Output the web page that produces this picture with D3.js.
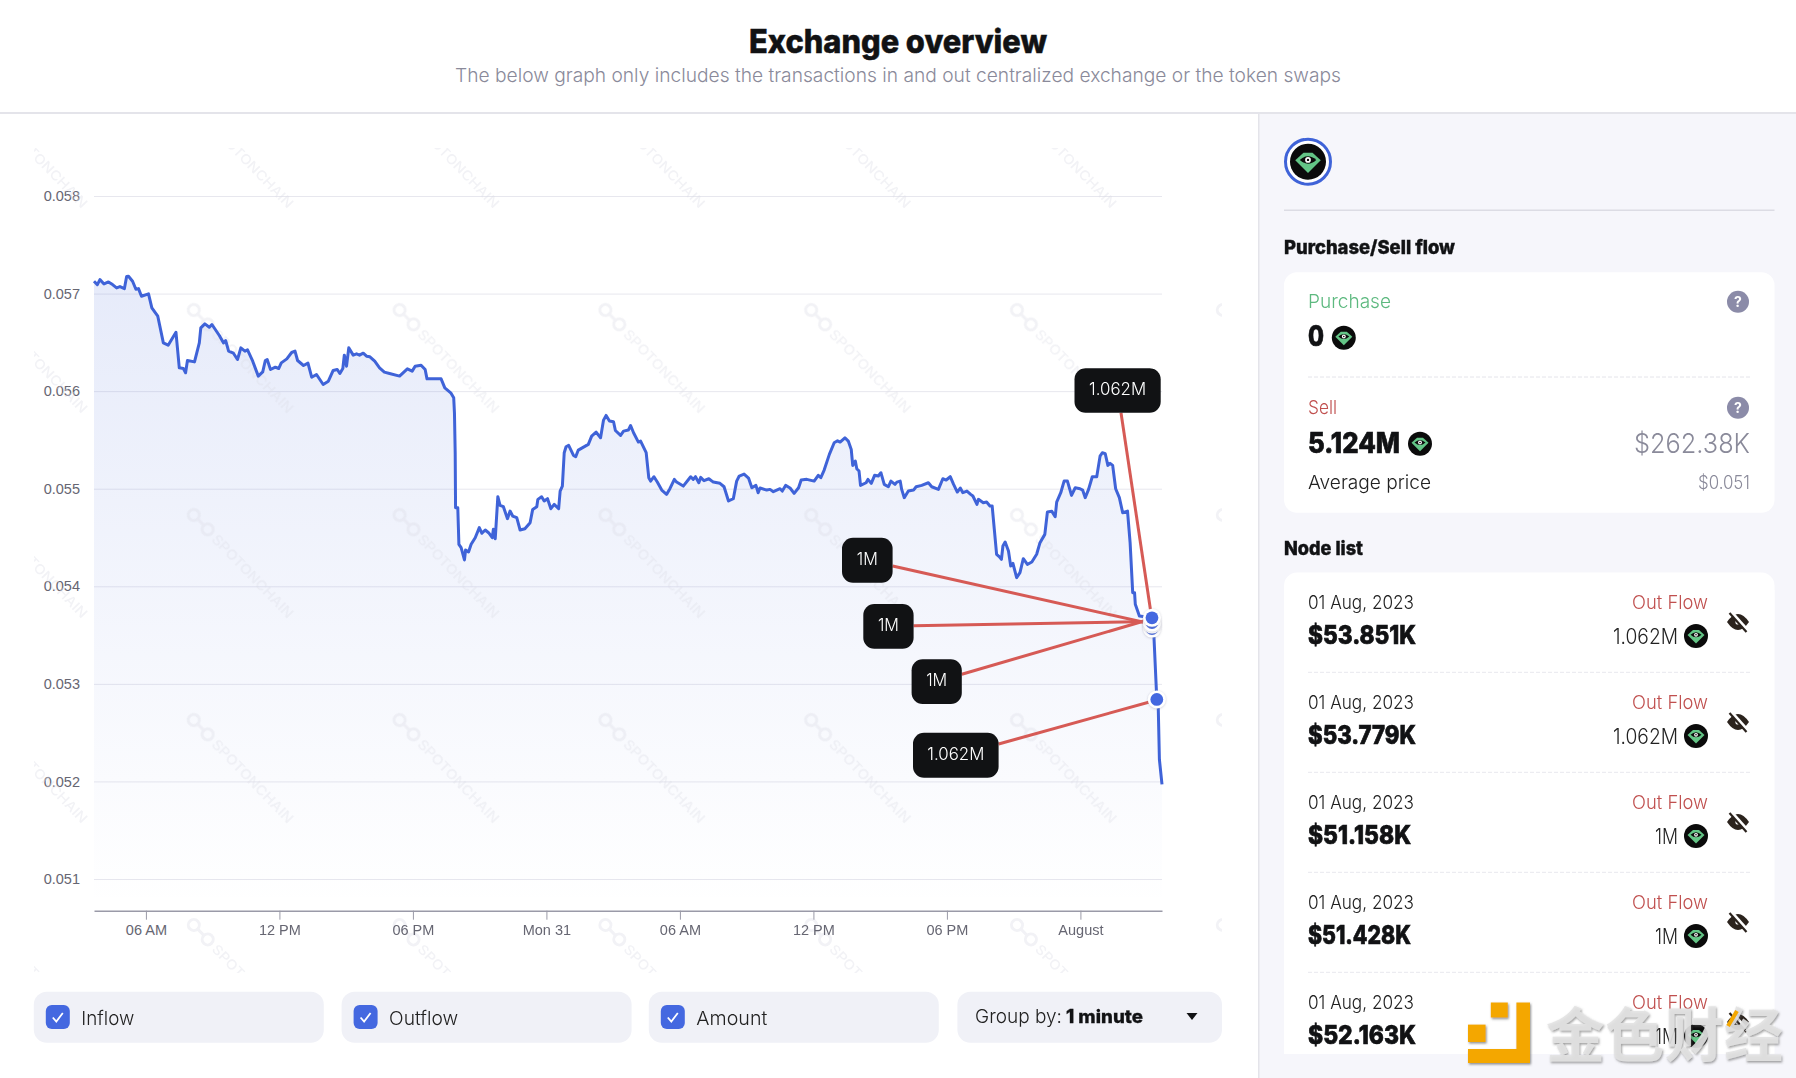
<!DOCTYPE html>
<html>
<head>
<meta charset="utf-8">
<title>Exchange overview</title>
<script src="https://cdn.jsdelivr.net/npm/d3@7"></script>
<style>
  html, body { margin: 0; padding: 0; background: #fff; }
  svg { display: block; }
  text { font-family: Inter, "Noto Sans", sans-serif; }
  .axis text { font-family: "Liberation Sans", Arial, sans-serif; font-size: 14.5px; fill: #666672; }
</style>
</head>
<body>
<div id="chart-div"></div>
<script>
var fn = {};
var vars = {};

// minutes since 30 Jul 03:40
var price_minutes = [
  0, 9, 16, 27, 39, 50, 61, 70, 82, 88, 93, 104, 113, 120, 128, 147, 156, 172, 187, 200,
  221, 230, 241, 247, 252, 271, 284, 288, 299, 311, 318, 338, 349, 355, 363, 376, 387, 396, 407, 414,
  428, 443, 455, 462, 467, 476, 489, 498, 505, 520, 533, 542, 549, 565, 577, 587, 600, 618, 632, 645,
  656, 663, 671, 675, 681, 687, 699, 708, 716, 726, 735, 744, 757, 770, 783, 797, 824, 845, 858, 866,
  882, 893, 898, 936, 946, 962, 970, 972, 974, 975, 981, 984, 990, 999, 1002, 1010, 1017, 1028, 1039, 1046,
  1055, 1064, 1074, 1077, 1082, 1089, 1095, 1104, 1115, 1122, 1129, 1140, 1149, 1162, 1176, 1183, 1194, 1197, 1207, 1214,
  1223, 1232, 1241, 1253, 1257, 1263, 1268, 1273, 1280, 1293, 1299, 1306, 1333, 1342, 1354, 1366, 1374, 1381, 1390, 1401,
  1406, 1420, 1428, 1441, 1447, 1455, 1468, 1474, 1489, 1496, 1501, 1510, 1519, 1531, 1544, 1553, 1565, 1571, 1589, 1609,
  1616, 1622, 1631, 1636, 1645, 1658, 1670, 1688, 1699, 1711, 1724, 1733, 1740, 1753, 1765, 1774, 1785, 1791, 1796, 1814,
  1823, 1832, 1850, 1856, 1865, 1877, 1888, 1900, 1907, 1922, 1942, 1953, 1960, 1969, 1983, 1996, 2005, 2012, 2025, 2034,
  2042, 2046, 2053, 2057, 2063, 2067, 2082, 2087, 2096, 2105, 2115, 2122, 2131, 2142, 2149, 2160, 2165, 2174, 2178, 2185,
  2196, 2210, 2217, 2232, 2250, 2259, 2277, 2289, 2298, 2309, 2318, 2328, 2336, 2343, 2354, 2364, 2370, 2381, 2385, 2398,
  2407, 2416, 2422, 2434, 2441, 2447, 2451, 2457, 2466, 2472, 2478, 2488, 2497, 2506, 2517, 2529, 2542, 2551, 2564, 2571,
  2583, 2592, 2596, 2607, 2616, 2625, 2636, 2646, 2659, 2666, 2673, 2682, 2692, 2704, 2713, 2719, 2727, 2734, 2740, 2747,
  2755, 2765, 2774, 2787, 2794, 2801, 2806, 2808, 2819, 2853, 2857, 2866, 2870, 2873, 2880
];

var prices = [
  0.057126, 0.057092, 0.057143, 0.057099, 0.057119, 0.057092, 0.057058, 0.057072, 0.057051, 0.057174, 0.057177, 0.057126, 0.057044, 0.057051, 0.056973, 0.056997, 0.056853, 0.056768, 0.056495, 0.056471,
  0.056604, 0.056239, 0.056232, 0.056188, 0.056314, 0.056300, 0.056495, 0.056648, 0.056689, 0.056655, 0.056683, 0.056570, 0.056495, 0.056519, 0.056410, 0.056389, 0.056324, 0.056444, 0.056410, 0.056423,
  0.056307, 0.056154, 0.056198, 0.056314, 0.056324, 0.056222, 0.056246, 0.056232, 0.056290, 0.056331, 0.056396, 0.056410, 0.056314, 0.056263, 0.056287, 0.056143, 0.056171, 0.056068, 0.056102, 0.056212,
  0.056222, 0.056181, 0.056232, 0.056369, 0.056256, 0.056444, 0.056369, 0.056382, 0.056369, 0.056389, 0.056358, 0.056352, 0.056307, 0.056239, 0.056195, 0.056181, 0.056154, 0.056229, 0.056205, 0.056256,
  0.056266, 0.056222, 0.056126, 0.056126, 0.056034, 0.055983, 0.055932, 0.055778, 0.055369, 0.054805, 0.054805, 0.054430, 0.054396, 0.054270, 0.054372, 0.054352, 0.054430, 0.054498, 0.054601, 0.054543,
  0.054577, 0.054549, 0.054498, 0.054584, 0.054488, 0.054918, 0.054829, 0.054816, 0.054693, 0.054771, 0.054720, 0.054703, 0.054577, 0.054590, 0.054652, 0.054788, 0.054816, 0.054891, 0.054918, 0.054874,
  0.054898, 0.054795, 0.054840, 0.054795, 0.054976, 0.055027, 0.055369, 0.055430, 0.055444, 0.055341, 0.055328, 0.055396, 0.055454, 0.055539, 0.055580, 0.055522, 0.055703, 0.055751, 0.055693, 0.055686,
  0.055597, 0.055546, 0.055590, 0.055601, 0.055648, 0.055573, 0.055478, 0.055488, 0.055369, 0.055113, 0.055078, 0.055123, 0.055068, 0.054986, 0.054942, 0.055000, 0.055096, 0.055068, 0.055027, 0.055123,
  0.055096, 0.055123, 0.055061, 0.055116, 0.055082, 0.055102, 0.055068, 0.055055, 0.055020, 0.054874, 0.054898, 0.055078, 0.055130, 0.055150, 0.055109, 0.055010, 0.055034, 0.054959, 0.055007, 0.054986,
  0.054993, 0.054969, 0.055000, 0.054976, 0.055034, 0.055007, 0.054952, 0.055010, 0.055089, 0.055096, 0.055078, 0.055137, 0.055113, 0.055191, 0.055352, 0.055471, 0.055491, 0.055478, 0.055522, 0.055488,
  0.055403, 0.055239, 0.055283, 0.055205, 0.055181, 0.055034, 0.055061, 0.055096, 0.055055, 0.055137, 0.055130, 0.055164, 0.055044, 0.055020, 0.055078, 0.055044, 0.055068, 0.055078, 0.054993, 0.054908,
  0.054976, 0.054986, 0.055020, 0.055034, 0.055061, 0.055020, 0.054993, 0.055102, 0.055089, 0.055123, 0.055044, 0.054966, 0.055007, 0.054959, 0.054976, 0.054942, 0.054925, 0.054840, 0.054891, 0.054857,
  0.054863, 0.054823, 0.054823, 0.054328, 0.054304, 0.054276, 0.054413, 0.054454, 0.054362, 0.054208, 0.054235, 0.054089, 0.054140, 0.054283, 0.054225, 0.054249, 0.054328, 0.054447, 0.054532, 0.054761,
  0.054768, 0.054713, 0.054863, 0.054959, 0.055078, 0.055078, 0.054932, 0.055010, 0.055000, 0.054986, 0.054908, 0.054993, 0.055123, 0.055123, 0.055334, 0.055369, 0.055358, 0.055239, 0.055260, 0.055239,
  0.055000, 0.054908, 0.054754, 0.054771, 0.054447, 0.053935, 0.053935, 0.053816, 0.053696, 0.053677, 0.053590, 0.052840, 0.052740, 0.052225, 0.051970
];

var y_ticks = [0.051, 0.052, 0.053, 0.054, 0.055, 0.056, 0.057, 0.058];

var x_tick_times = [
  "2023-07-30T06:00Z", "2023-07-30T12:00Z", "2023-07-30T18:00Z", "2023-07-31T00:00Z",
  "2023-07-31T06:00Z", "2023-07-31T12:00Z", "2023-07-31T18:00Z", "2023-08-01T00:00Z"
];
var x_tick_labels = ["06 AM", "12 PM", "06 PM", "Mon 31", "06 AM", "12 PM", "06 PM", "August"];

var node_labels = ["1.062M", "1M", "1M", "1M", "1.062M"];
var node_minutes = [2853, 2853, 2853, 2853, 2866];
var node_prices = [0.053677, 0.053628, 0.053608, 0.053567, 0.052840];

var list_values = ["$53.851K", "$53.779K", "$51.158K", "$51.428K", "$52.163K"];
var list_amounts = ["1.062M", "1.062M", "1M", "1M", "1M"];
var list_date = "01 Aug, 2023";

var toggle_names = ["Inflow", "Outflow", "Amount"];

vars.colors = {
  blue: "#3f63d8", red: "#d65a55", ink: "#111214", muted: "#8a8a9a",
  panel: "#f6f6fb", pill: "#f0f1f7", green: "#5db97f", sell: "#c0504f", rule: "#e4e4ea"
};

vars.chart = { left: 94, right: 1162, y_top: 196, y_bottom: 879, axis_y: 910.7, area_y: 906 };

// label box, where the connector leaves it and where it lands, same order as node_labels
vars.callouts = [
  { x: 1074.5, y: 368.3, w: 86.2, h: 44.4, fx: 1121, fy: 412.7, tx: 1151.7, ty: 618 },
  { x: 842, y: 537.7, w: 50.6, h: 45, fx: 892.6, fy: 566, tx: 1151.7, ty: 624 },
  { x: 863.3, y: 604, w: 50.3, h: 44.7, fx: 913.6, fy: 625.7, tx: 1151.7, ty: 621.5 },
  { x: 911.6, y: 659.3, w: 50.2, h: 44.7, fx: 961.8, fy: 674.3, tx: 1151.7, ty: 618.8 },
  { x: 913, y: 732.7, w: 85.6, h: 45, fx: 998.6, fy: 744, tx: 1156.7, ty: 700 }
];

fn.text = function(g, str, o) {
  var t = g.append("text")
    .attr("x", o.x)
    .attr("y", o.y)
    .attr("font-size", o.size)
    .attr("font-weight", o.weight || 400)
    .attr("fill", o.fill || vars.colors.ink)
    .attr("text-anchor", o.anchor || "start")
    .text(str);
  if (o.width) {
    t.attr("textLength", o.width).attr("lengthAdjust", "spacingAndGlyphs");
  }
  // Inter tops out lighter than the original heavy face, so thicken it a bit
  if (o.heavy) {
    t.attr("stroke", o.fill || vars.colors.ink).attr("stroke-width", o.heavy);
  }
  return t;
};

// black coin with the green diamond eye
fn.token = function(g, cx, cy, r) {
  var c = g.append("g").attr("transform", "translate(" + cx + "," + cy + ") scale(" + r / 12 + ")");
  c.append("circle").attr("r", 12).attr("fill", "#0b0b0b");
  c.append("path").attr("d", "M-8.5,-1 L-3,-6 L3,-6 L8.5,-1 L0,7.5 Z").attr("fill", "#63c586");
  c.append("path").attr("d", "M-5.5,-1.2 Q0,-6.2 5.5,-1.2 Q0,3.8 -5.5,-1.2 Z").attr("fill", "#0b0b0b");
  c.append("circle").attr("cy", -1.2).attr("r", 1.9).attr("fill", "#fff");
  c.append("circle").attr("cy", -1.2).attr("r", 0.8).attr("fill", "#0b0b0b");
};

fn.help = function(g, cx, cy) {
  g.append("circle").attr("cx", cx).attr("cy", cy).attr("r", 11).attr("fill", "#8b8ba8");
  fn.text(g, "?", { x: cx, y: cy + 5, size: 14, weight: 700, fill: "#fff", anchor: "middle" });
};

fn.eye_off = function(g, cx, cy) {
  var e = g.append("g").attr("transform", "translate(" + cx + "," + cy + ")");
  e.append("path").attr("d", "M-11,0 Q0,-16 11,0 Q0,16 -11,0 Z").attr("fill", "#2b231d");
  e.append("circle").attr("r", 2.6).attr("fill", "#fff");
  e.append("line").attr("x1", -7).attr("y1", -10).attr("x2", 10).attr("y2", 9)
    .attr("stroke", "#fff").attr("stroke-width", 3.6);
  e.append("line").attr("x1", -8.5).attr("y1", -9).attr("x2", 8.5).attr("y2", 10)
    .attr("stroke", "#2b231d").attr("stroke-width", 2.2);
};

fn.draw_header = function(svg) {
  fn.text(svg, "Exchange overview", { x: 898, y: 53, size: 32, weight: 800, anchor: "middle", width: 298, heavy: 0.5 });
  fn.text(svg, "The below graph only includes the transactions in and out centralized exchange or the token swaps",
    { x: 898, y: 82, size: 19, weight: 300, fill: vars.colors.muted, anchor: "middle", width: 886 });
  svg.append("rect").attr("x", 0).attr("y", 112).attr("width", 1796).attr("height", 2).attr("fill", vars.colors.rule);
};

fn.draw_watermarks = function(svg) {
  svg.append("clipPath").attr("id", "mark-clip")
    .append("rect").attr("x", 34).attr("y", 148).attr("width", 1188).attr("height", 825);

  var g = svg.append("g").attr("clip-path", "url(#mark-clip)").attr("opacity", 0.38);
  d3.range(-12, 1300, 205.8).forEach(function(x) {
    d3.range(105, 1000, 205).forEach(function(y) {
      var m = g.append("g").attr("transform", "translate(" + x + "," + y + ") rotate(46)");
      [0, 20].forEach(function(cx) {
        m.append("circle").attr("cx", cx).attr("r", 5.5)
          .attr("fill", "none").attr("stroke", "#dcdde6").attr("stroke-width", 3);
      });
      m.append("line").attr("x1", 5).attr("x2", 15)
        .attr("stroke", "#dcdde6").attr("stroke-width", 3);
      fn.text(m, "SPOTONCHAIN", { x: 30, y: 5, size: 13.5, weight: 500, fill: "#dcdde6", width: 110 });
    });
  });
};

fn.draw_chart = function(svg) {
  var c = vars.chart;
  var start = Date.UTC(2023, 6, 30, 3, 40);
  var times = price_minutes.map(function(m) { return new Date(start + m * 60000); });

  var x_scale = d3.scaleUtc()
    .domain([new Date(start), new Date(start + 2880 * 60000)])
    .range([c.left, c.right]);
  var y_scale = d3.scaleLinear()
    .domain([0.051, 0.058])
    .range([c.y_bottom, c.y_top]);

  var defs = svg.append("defs");
  var grad = defs.append("linearGradient").attr("id", "area-fill")
    .attr("x1", 0).attr("x2", 0).attr("y1", 0).attr("y2", 1);
  grad.append("stop").attr("offset", "0%").attr("stop-color", vars.colors.blue).attr("stop-opacity", 0.13);
  grad.append("stop").attr("offset", "100%").attr("stop-color", vars.colors.blue).attr("stop-opacity", 0);

  defs.append("filter").attr("id", "node-shadow")
    .append("feDropShadow").attr("dx", 0).attr("dy", 0.5).attr("stdDeviation", 0.8)
    .attr("flood-color", "#8a8aa0").attr("flood-opacity", 0.45);

  // gridlines come from the y axis ticks
  var y_axis = svg.append("g").attr("class", "axis")
    .attr("transform", "translate(" + c.left + ",0)")
    .call(d3.axisLeft(y_scale).tickValues(y_ticks).tickSize(-(c.right - c.left)).tickPadding(14)
      .tickFormat(d3.format(".3f")));
  y_axis.select(".domain").remove();
  y_axis.selectAll("line").attr("stroke", "#e7e7ee");

  var area = d3.area()
    .x(function(d, i) { return x_scale(times[i]); })
    .y0(c.area_y)
    .y1(function(d) { return y_scale(d); });
  var line = d3.line()
    .x(function(d, i) { return x_scale(times[i]); })
    .y(function(d) { return y_scale(d); });

  svg.append("path").datum(prices).attr("d", area)
    .attr("fill", "url(#area-fill)");

  fn.draw_watermarks(svg);

  svg.append("path").datum(prices).attr("d", line)
    .attr("fill", "none").attr("stroke", vars.colors.blue).attr("stroke-width", 3)
    .attr("stroke-linejoin", "round");

  var x_axis = svg.append("g").attr("class", "axis")
    .attr("transform", "translate(0," + c.axis_y + ")")
    .call(d3.axisBottom(x_scale)
      .tickValues(x_tick_times.map(function(d) { return new Date(d); }))
      .tickSizeInner(9).tickSizeOuter(0).tickPadding(5)
      .tickFormat(function(d, i) { return x_tick_labels[i]; }));
  x_axis.select(".domain").attr("stroke", "#9a9aa8").attr("stroke-width", 1.6);
  x_axis.selectAll("line").attr("stroke", "#9a9aa8");

  // connectors go under the markers, boxes on top
  svg.append("g").selectAll("line").data(vars.callouts).enter().append("line")
    .attr("x1", function(d) { return d.fx; })
    .attr("y1", function(d) { return d.fy; })
    .attr("x2", function(d) { return d.tx; })
    .attr("y2", function(d) { return d.ty; })
    .attr("stroke", vars.colors.red).attr("stroke-width", 3);

  // first node last so it sits on top of the stack
  var order = d3.range(node_labels.length).reverse();
  var nodes = svg.append("g").selectAll("g").data(order).enter().append("g")
    .attr("transform", function(i) {
      return "translate(" + x_scale(new Date(start + node_minutes[i] * 60000)) + "," + y_scale(node_prices[i]) + ")";
    });
  nodes.append("circle").attr("r", 9).attr("fill", "#fff").attr("filter", "url(#node-shadow)");
  nodes.append("circle").attr("r", 6.4).attr("fill", "#4468e0");

  var boxes = svg.append("g");
  vars.callouts.forEach(function(d, i) {
    boxes.append("rect").attr("x", d.x).attr("y", d.y).attr("width", d.w).attr("height", d.h)
      .attr("rx", 11).attr("fill", vars.colors.ink);
    fn.text(boxes, node_labels[i], {
      x: d.x + d.w / 2, y: d.y + d.h / 2 + 4.8, size: 17.5, weight: 300, fill: "#fff", anchor: "middle",
      width: node_labels[i].length > 2 ? 57 : 21
    });
  });
};

fn.draw_controls = function(svg) {
  var pills = [33.8, 341.6, 648.8];
  toggle_names.forEach(function(name, i) {
    svg.append("rect").attr("x", pills[i]).attr("y", 991.7).attr("width", 290).attr("height", 51)
      .attr("rx", 13).attr("fill", vars.colors.pill);
    svg.append("rect").attr("x", pills[i] + 12).attr("y", 1005).attr("width", 24).attr("height", 24)
      .attr("rx", 6).attr("fill", "#4468e0");
    svg.append("path")
      .attr("d", "M" + (pills[i] + 19) + ",1017.5 l3.5,4 l6.5,-8.5")
      .attr("fill", "none").attr("stroke", "#fff").attr("stroke-width", 1.8);
    fn.text(svg, name, {
      x: pills[i] + 47.5, y: 1025, size: 19, weight: 300, fill: "#222",
      width: [53, 69, 71][i]
    });
  });

  svg.append("rect").attr("x", 957.4).attr("y", 991.7).attr("width", 264.6).attr("height", 51)
    .attr("rx", 13).attr("fill", vars.colors.pill);
  fn.text(svg, "Group by:", { x: 975, y: 1023, size: 18.5, weight: 300, fill: "#222", width: 87 });
  fn.text(svg, "1 minute", { x: 1066, y: 1023, size: 18.5, weight: 800, width: 77, heavy: 0.3 });
  svg.append("path").attr("d", "M1186.5,1013 h11 l-5.5,7 Z").attr("fill", vars.colors.ink);
};

fn.draw_flow_card = function(svg) {
  var c = vars.colors;
  svg.append("rect").attr("x", 1259).attr("y", 114).attr("width", 537).attr("height", 964).attr("fill", c.panel);
  svg.append("rect").attr("x", 1258).attr("y", 114).attr("width", 1.5).attr("height", 964).attr("fill", c.rule);

  svg.append("circle").attr("cx", 1308).attr("cy", 161.7).attr("r", 22.5)
    .attr("fill", "#fff").attr("stroke", c.blue).attr("stroke-width", 3);
  fn.token(svg, 1308, 161.7, 18);
  svg.append("rect").attr("x", 1284).attr("y", 209.5).attr("width", 490.5).attr("height", 1.5).attr("fill", "#dcdce4");

  fn.text(svg, "Purchase/Sell flow", { x: 1284, y: 254, size: 19, weight: 800, width: 171, heavy: 0.4 });
  svg.append("rect").attr("x", 1284).attr("y", 272.3).attr("width", 490.5).attr("height", 240.4)
    .attr("rx", 13).attr("fill", "#fff");

  fn.text(svg, "Purchase", { x: 1308, y: 308, size: 19, weight: 300, fill: c.green, width: 83 });
  fn.help(svg, 1738, 301.7);
  fn.text(svg, "0", { x: 1308, y: 346, size: 28, weight: 800, width: 16, heavy: 0.7 });
  fn.token(svg, 1343.8, 337.7, 12);

  svg.append("line").attr("x1", 1308).attr("x2", 1751).attr("y1", 377).attr("y2", 377)
    .attr("stroke", "#e4e4ea").attr("stroke-dasharray", "4,2");

  fn.text(svg, "Sell", { x: 1308, y: 414, size: 19, weight: 300, fill: c.sell, width: 29 });
  fn.help(svg, 1738, 407.7);
  fn.text(svg, "5.124M", { x: 1308, y: 452.7, size: 28, weight: 800, width: 92, heavy: 0.7 });
  fn.token(svg, 1420, 443.7, 12);
  fn.text(svg, "$262.38K", { x: 1750, y: 452.7, size: 27, weight: 300, fill: c.muted, anchor: "end", width: 116 });
  fn.text(svg, "Average price", { x: 1308, y: 489, size: 19, weight: 300, fill: "#222", width: 123 });
  fn.text(svg, "$0.051", { x: 1750, y: 489, size: 18, weight: 300, fill: c.muted, anchor: "end", width: 52 });
};

fn.draw_node_list = function(svg) {
  var c = vars.colors;
  fn.text(svg, "Node list", { x: 1284, y: 555, size: 19, weight: 800, width: 79, heavy: 0.4 });
  svg.append("rect").attr("x", 1284).attr("y", 572.6).attr("width", 490.5).attr("height", 60)
    .attr("rx", 13).attr("fill", "#fff");
  svg.append("rect").attr("x", 1284).attr("y", 590).attr("width", 490.5).attr("height", 464).attr("fill", "#fff");

  list_values.forEach(function(value, i) {
    var y = 100 * i;
    fn.text(svg, list_date, { x: 1308, y: 608.8 + y, size: 18.5, weight: 300, fill: "#222", width: 106 });
    fn.text(svg, value, {
      x: 1308, y: 643.6 + y, size: 26, weight: 800,
      width: value.charAt(2) === "1" && value.charAt(3) === "." ? 103 : 108,
      heavy: 0.7
    });
    fn.text(svg, "Out Flow", { x: 1708, y: 608.8 + y, size: 18.5, weight: 300, fill: c.sell, anchor: "end", width: 76 });
    fn.text(svg, list_amounts[i], {
      x: 1678, y: 643.6 + y, size: 21, weight: 300, fill: "#222", anchor: "end",
      width: list_amounts[i].length > 2 ? 65 : 23
    });
    fn.token(svg, 1696, 636 + y, 12);
    fn.eye_off(svg, 1738, 622 + y);
    if (i < 4) {
      svg.append("line").attr("x1", 1308).attr("x2", 1751).attr("y1", 672.3 + y).attr("y2", 672.3 + y)
        .attr("stroke", "#e8e8ee").attr("stroke-dasharray", "4,2");
    }
  });
};

fn.draw_site_mark = function(svg) {
  svg.append("filter").attr("id", "mark-shadow")
    .append("feDropShadow").attr("dx", 1).attr("dy", 1.5).attr("stdDeviation", 1.2)
    .attr("flood-color", "#555").attr("flood-opacity", 0.65);

  var g = svg.append("g").attr("filter", "url(#mark-shadow)");
  g.append("path")
    .attr("d", "M1516.4,1002.5 H1530 V1063 H1468 V1049 H1516.4 Z")
    .attr("fill", "#f4a700");
  g.append("rect").attr("x", 1490.8).attr("y", 1002.5).attr("width", 17).attr("height", 15).attr("fill", "#f4a700");
  g.append("rect").attr("x", 1468).attr("y", 1024.6).attr("width", 17.6).attr("height", 17.4).attr("fill", "#f4a700");

  g.append("text").attr("x", 1546).attr("y", 1057)
    .attr("font-size", 59)
    .attr("font-weight", 700)
    .attr("fill", "#e2e2e2")
    .attr("fill-opacity", 0.88)
    .style("font-family", '"Noto Sans CJK SC"')
    .attr("textLength", 237)
    .text("金色财经");

  // the yellow tick that crosses the last eye icon
  svg.append("line").attr("x1", 1737).attr("y1", 1011).attr("x2", 1728).attr("y2", 1026)
    .attr("stroke", "#f4a700").attr("stroke-width", 4);
};

fn.main = function() {
  vars.svg = d3.select("#chart-div")
    .append("svg")
    .attr("id", "chart-svg")
    .attr("width", 1796)
    .attr("height", 1078);

  fn.draw_header(vars.svg);
  fn.draw_chart(vars.svg);
  fn.draw_controls(vars.svg);
  fn.draw_flow_card(vars.svg);
  fn.draw_node_list(vars.svg);
  fn.draw_site_mark(vars.svg);
};

fn.main();
</script>
</body>
</html>
